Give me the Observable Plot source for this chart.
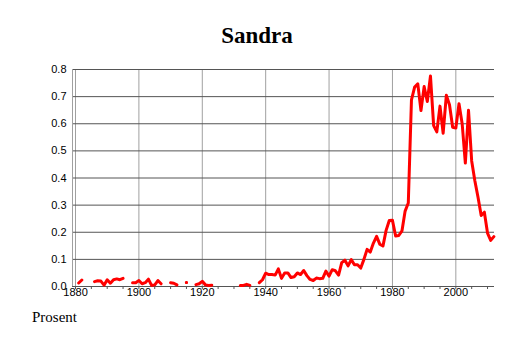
<!DOCTYPE html>
<html>
<head>
<meta charset="utf-8">
<script src="https://cdn.jsdelivr.net/npm/d3@7"></script>
<script src="https://cdn.jsdelivr.net/npm/@observablehq/plot@0.6"></script>
<style>
  html, body { margin: 0; padding: 0; background: white; }
  #wrap { position: relative; width: 514px; height: 343px; background: white; overflow: hidden; }
  #title { position: absolute; left: 0; top: 23px; width: 514px; text-align: center;
           font: bold 23px "Liberation Serif", "Times New Roman", serif; line-height: 26px; color: black; }
  #chart { position: absolute; left: 0; top: 52px; }
  #caption { position: absolute; left: 32px; top: 308px;
             font: 15px "Liberation Serif", "Times New Roman", serif; line-height: 18px; color: black; }
</style>
</head>
<body>
<div id="wrap">
  <div id="title">Sandra</div>
  <div id="chart"></div>
  <div id="caption">Prosent</div>
</div>
<script>
// Data: share (percent) of newborns named Sandra, by year (null = no data)
const firstYear = 1880;
const values = [
  // 1880-1889
  null, 0.013, 0.024, null, null, null, 0.018, 0.021, 0.020, 0.005,
  // 1890-1899
  0.025, 0.012, 0.025, 0.028, 0.025, 0.030, null, null, 0.014, 0.014,
  // 1900-1909
  0.022, 0.010, 0.014, 0.027, 0.004, 0.006, 0.022, 0.010, null, null,
  // 1910-1919
  0.014, 0.012, 0.006, null, null, 0.015, null, null, 0.007, 0.010,
  // 1920-1929
  0.019, 0.006, 0.004, 0.005, null, null, null, null, null, null,
  // 1930-1939
  null, null, 0.004, 0.004, 0.008, 0.004, null, null, 0.014, 0.025,
  // 1940-1949
  0.049, 0.044, 0.044, 0.042, 0.065, 0.030, 0.050, 0.050, 0.033, 0.036,
  // 1950-1959
  0.050, 0.044, 0.059, 0.040, 0.026, 0.022, 0.031, 0.029, 0.030, 0.057,
  // 1960-1969
  0.038, 0.062, 0.058, 0.042, 0.088, 0.097, 0.076, 0.099, 0.080, 0.080,
  // 1970-1979
  0.068, 0.100, 0.137, 0.127, 0.160, 0.185, 0.156, 0.149, 0.207, 0.243,
  // 1980-1989
  0.244, 0.186, 0.188, 0.205, 0.278, 0.308, 0.688, 0.735, 0.747, 0.649,
  // 1990-1999
  0.737, 0.682, 0.776, 0.593, 0.570, 0.665, 0.565, 0.705, 0.670, 0.587,
  // 2000-2009
  0.584, 0.674, 0.600, 0.455, 0.650, 0.463, 0.390, 0.329, 0.262, 0.274,
  // 2010-2012
  0.197, 0.170, 0.184
];
const xTicks = [1880, 1900, 1920, 1940, 1960, 1980, 2000];
const minorTicks = [1880, 1885, 1890, 1895, 1900, 1905, 1910, 1915, 1920, 1925, 1930, 1935,
                    1940, 1945, 1950, 1955, 1960, 1965, 1970, 1975, 1980, 1985, 1990, 1995,
                    2000, 2005, 2010];
const yTicks = [0, 0.1, 0.2, 0.3, 0.4, 0.5, 0.6, 0.7, 0.8];
const xDomain = [1879.05, 2012.2];
const yDomain = [0, 0.8];

const data = values.map((v, i) => ({year: firstYear + i, value: v}));
const isolated = data.filter((d, i) =>
  d.value != null &&
  (i === 0 || data[i - 1].value == null) &&
  (i === data.length - 1 || data[i + 1].value == null));

const chart = Plot.plot({
  width: 514,
  height: 250,
  marginTop: 17,
  marginBottom: 16,
  marginLeft: 72,
  marginRight: 20,
  x: {domain: xDomain},
  y: {domain: yDomain},
  style: {fontFamily: "'Liberation Sans', Arial, Helvetica, sans-serif", fontSize: "11px", color: "black", background: "white"},
  marks: [
    Plot.ruleX(xTicks, {stroke: "#a0a0a0", strokeWidth: 1}),
    Plot.ruleY(yTicks, {stroke: "#555555", strokeWidth: 1}),
    Plot.ruleX([xDomain[0]], {stroke: "#a0a0a0", strokeWidth: 1}),
    Plot.axisY({ticks: yTicks, tickSize: 0, tickPadding: 6, tickFormat: d3.format(".1f"), label: null}),
    Plot.axisX({ticks: minorTicks, tickSize: 3, tickFormat: () => "", label: null, stroke: "#555555"}),
    Plot.axisX({ticks: xTicks, tickSize: 0, tickPadding: 2, tickFormat: d => String(d), label: null}),
    Plot.line(data, {x: "year", y: "value", stroke: "#ff0000", strokeWidth: 3, strokeLinejoin: "round", strokeLinecap: "round"}),
    Plot.dot(isolated, {x: "year", y: "value", r: 1.5, fill: "#ff0000"})
  ]
});
document.getElementById("chart").appendChild(chart);
</script>
</body>
</html>
